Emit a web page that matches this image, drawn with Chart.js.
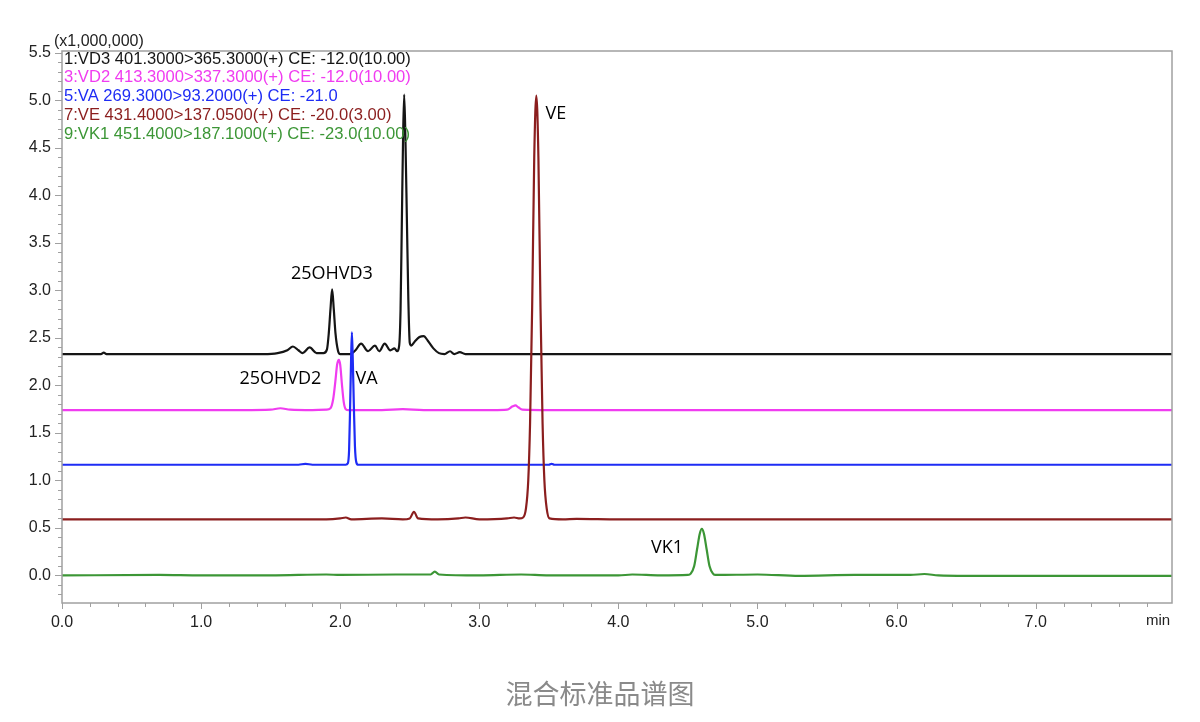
<!DOCTYPE html>
<html lang="zh">
<head>
<meta charset="UTF-8">
<title>混合标准品谱图</title>
<script src="https://cdn.jsdelivr.net/npm/chart.js"></script>
<style>
  body { margin: 0; background: #fff; }
  .wrap { position: relative; width: 1200px; height: 722px; }
  .caption {
    position: absolute; left: 0; right: 0; top: 673px;
    text-align: center; color: #8a8a8a;
    font: 27px "Noto Sans CJK SC", sans-serif;
  }
</style>
</head>
<body>
<div class="wrap">
  <canvas id="chrom" width="1200" height="722"></canvas>
  <div class="caption">混合标准品谱图</div>
</div>
<script>
// retention time (min), intensity (x1,000,000)
const vd3 = [[0,2.33],[0.28,2.33],[0.3,2.345],[0.32,2.33],[0.6,2.33],[0.9,2.33],[1.2,2.33],[1.45,2.33],
  [1.55,2.34],[1.62,2.37],[1.66,2.41],[1.70,2.37],[1.73,2.34],[1.78,2.40],[1.83,2.34],[1.88,2.34],
  [1.905,2.38],[1.918,2.55],[1.93,2.8],[1.942,3.01],[1.954,2.8],[1.966,2.55],[1.985,2.36],[2.0,2.33],
  [2.04,2.33],[2.07,2.33],[2.11,2.37],[2.15,2.44],[2.2,2.36],[2.25,2.42],[2.28,2.36],[2.32,2.44],
  [2.36,2.37],[2.39,2.39],[2.41,2.36],[2.424,2.42],[2.434,2.8],[2.443,3.7],[2.452,4.6],[2.46,5.06],
  [2.469,4.6],[2.48,3.7],[2.49,2.9],[2.5,2.45],[2.51,2.42],[2.535,2.46],[2.57,2.51],[2.6,2.52],
  [2.63,2.47],[2.67,2.39],[2.71,2.34],[2.75,2.33],[2.79,2.36],[2.82,2.33],[2.86,2.35],[2.9,2.33],
  [3.0,2.33],[3.3,2.33],[3.6,2.33],[4.0,2.33],[4.5,2.33],[5.0,2.33],[6.0,2.33],[7.0,2.33],[7.98,2.33]];
const vd2 = [[0,1.74],[0.8,1.74],[1.3,1.74],[1.5,1.745],[1.57,1.76],[1.64,1.745],[1.8,1.74],[1.9,1.745],
  [1.93,1.76],[1.95,1.86],[1.965,2.04],[1.978,2.22],[1.99,2.27],[2.0,2.22],[2.012,2.02],[2.025,1.83],
  [2.04,1.75],[2.06,1.74],[2.3,1.74],[2.45,1.75],[2.6,1.74],[3.1,1.74],[3.2,1.745],[3.24,1.78],
  [3.26,1.79],[3.28,1.77],[3.31,1.745],[3.5,1.74],[5.0,1.74],[7.98,1.74]];
const va = [[0,1.165],[1.7,1.165],[1.75,1.175],[1.8,1.165],[2.04,1.165],[2.055,1.18],[2.064,1.32],
  [2.071,1.75],[2.078,2.25],[2.084,2.56],[2.09,2.3],[2.098,1.8],[2.106,1.36],[2.116,1.19],[2.13,1.165],
  [3.5,1.165],[3.52,1.175],[3.54,1.165],[6.5,1.165],[7.98,1.165]];
const ve = [[0,0.59],[1.0,0.59],[1.9,0.59],[2.0,0.6],[2.04,0.61],[2.08,0.59],[2.3,0.6],[2.45,0.59],
  [2.5,0.6],[2.53,0.67],[2.56,0.6],[2.7,0.59],[2.85,0.6],[2.9,0.61],[3.0,0.59],[3.2,0.6],[3.25,0.61],
  [3.29,0.6],[3.315,0.61],[3.335,0.7],[3.352,1.0],[3.365,1.6],[3.38,2.82],[3.395,4.4],[3.41,5.05],
  [3.425,4.4],[3.44,2.82],[3.455,1.6],[3.468,1.0],[3.485,0.7],[3.505,0.6],[3.6,0.59],[3.7,0.595],
  [4.0,0.59],[5.0,0.59],[7.98,0.59]];
const vk1 = [[0,0],[0.7,0.005],[1.0,0],[1.5,0],[1.9,0.01],[2.0,0.005],[2.4,0.01],[2.65,0.01],[2.68,0.04],
  [2.71,0.01],[3.0,0],[3.3,0.01],[3.5,0],[4.0,0],[4.1,0.01],[4.3,0],[4.5,0.005],[4.52,0.02],[4.545,0.1],
  [4.565,0.27],[4.585,0.44],[4.6,0.49],[4.615,0.44],[4.635,0.27],[4.655,0.1],[4.68,0.02],[4.7,0.005],
  [5.0,0.01],[5.3,-0.005],[5.7,0.005],[6.1,0.005],[6.2,0.015],[6.3,0],[6.5,-0.005],[7.98,-0.005]];

const traceNames = ['1:VD3 401.3000>365.3000(+) CE: -12.0(10.00)',
  '3:VD2 413.3000>337.3000(+) CE: -12.0(10.00)',
  '5:VA 269.3000>93.2000(+) CE: -21.0',
  '7:VE 431.4000>137.0500(+) CE: -20.0(3.00)',
  '9:VK1 451.4000>187.1000(+) CE: -23.0(10.00)'];
const traceColors = ['#151515', '#f03cf0', '#1e2cf5', '#8b1e1e', '#3c9636'];

// peak names, placed in data coordinates
const peakNames = ['25OHVD3', '25OHVD2', 'VA', 'VE', 'VK1'];
const peakNameT = [1.94, 1.57, 2.19, 3.55, 4.35];
const peakNameY = [3.17, 2.07, 2.07, 4.86, 0.29];

const series = [vd3, vd2, va, ve, vk1];
const drawOrder = [3, 4, 2, 1, 0];

const isStep = (v, s) => Math.abs(v / s - Math.round(v / s)) < 1e-3;

const decor = {
  id: 'decor',
  afterDraw(chart) {
    const ctx = chart.ctx, a = chart.chartArea;
    const xs = chart.scales.x, ys = chart.scales.y;
    ctx.save();
    // frame
    ctx.strokeStyle = '#a0a0a0';
    ctx.lineWidth = 1.5;
    ctx.strokeRect(a.left, a.top, a.right - a.left, a.bottom - a.top);
    // tick marks
    ctx.lineWidth = 1;
    ctx.beginPath();
    xs.ticks.forEach(t => {
      if (!isStep(t.value, 0.2)) return;
      const px = Math.round(xs.getPixelForValue(t.value)) + 0.5;
      ctx.moveTo(px, a.bottom);
      ctx.lineTo(px, a.bottom + (isStep(t.value, 1) ? 6 : 4));
    });
    ys.ticks.forEach(t => {
      if (!isStep(t.value, 0.1)) return;
      const py = Math.round(ys.getPixelForValue(t.value)) + 0.5;
      ctx.moveTo(a.left, py);
      ctx.lineTo(a.left - (isStep(t.value, 0.5) ? 7 : 4), py);
    });
    ctx.stroke();
    // units and axis name
    ctx.fillStyle = '#222';
    ctx.font = '16px "Liberation Sans", Arial, sans-serif';
    ctx.textBaseline = 'middle';
    ctx.textAlign = 'left';
    ctx.fillText('(x1,000,000)', a.left - 8, a.top - 9);
    ctx.font = '15px "Liberation Sans", Arial, sans-serif';
    ctx.textAlign = 'center';
    ctx.fillText('min', a.right - 14, a.bottom + 18);
    // trace legend
    ctx.font = '16.6px "Liberation Sans", Arial, sans-serif';
    ctx.textAlign = 'left';
    traceNames.forEach((n, i) => {
      ctx.fillStyle = traceColors[i];
      ctx.fillText(n, a.left + 2, a.top + 8 + i * 18.8);
    });
    // peak names
    ctx.fillStyle = '#000';
    ctx.font = '500 18px "Open Sans", sans-serif';
    ctx.textAlign = 'center';
    peakNames.forEach((n, i) => {
      ctx.fillText(n, xs.getPixelForValue(peakNameT[i]), ys.getPixelForValue(peakNameY[i]));
    });
    ctx.restore();
  }
};

new Chart('chrom', {
  type: 'line',
  data: {
    datasets: series.map((s, i) => ({
      label: traceNames[i],
      data: s.map(p => ({x: p[0], y: p[1]})),
      borderColor: traceColors[i],
      borderWidth: 2.2,
      pointRadius: 0,
      fill: false,
      cubicInterpolationMode: 'monotone',
      order: drawOrder[i]
    }))
  },
  options: {
    responsive: false,
    animation: false,
    devicePixelRatio: 1,
    layout: {padding: {top: 51, right: 28, left: 0, bottom: 0}},
    plugins: {legend: {display: false}, tooltip: {enabled: false}},
    scales: {
      x: {
        type: 'linear', min: 0, max: 7.98,
        grid: {display: false, drawTicks: false},
        border: {display: false},
        ticks: {
          stepSize: 0.2, autoSkip: false, maxRotation: 0, padding: 10, includeBounds: false,
          color: '#222', font: {family: '"Liberation Sans", Arial, sans-serif', size: 16},
          callback: v => isStep(v, 1) ? v.toFixed(1) : ''
        },
        afterFit: s => { s.height = 119; }
      },
      y: {
        type: 'linear', min: -0.29, max: 5.52,
        grid: {display: false, drawTicks: false},
        border: {display: false},
        ticks: {
          stepSize: 0.1, autoSkip: false, padding: 11, includeBounds: false,
          color: '#222', font: {family: '"Liberation Sans", Arial, sans-serif', size: 16},
          callback: v => isStep(v, 0.5) ? v.toFixed(1) : ''
        },
        afterFit: s => { s.width = 62; }
      }
    }
  },
  plugins: [decor]
});
</script>
</body>
</html>
